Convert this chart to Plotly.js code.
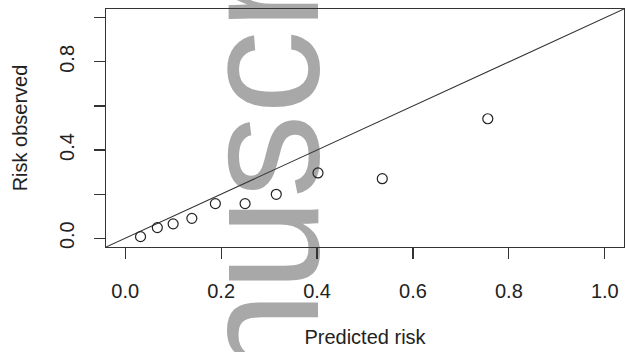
<!DOCTYPE html>
<html>
<head>
<meta charset="utf-8">
<script src="https://cdn.plot.ly/plotly-3.0.1.min.js"></script>
<style>html,body{margin:0;padding:0;background:#fff;}#chart{width:625px;height:352px;}</style>
</head>
<body>
<div id="chart"></div>
<script>
// Calibration data
var predictedRisk = [0.032, 0.067, 0.100, 0.139, 0.188, 0.250, 0.315, 0.402, 0.536, 0.756];
var observedRisk  = [0.007, 0.048, 0.065, 0.090, 0.157, 0.157, 0.199, 0.296, 0.270, 0.542];
// identity (y = x) reference line end points
var identityLine = [-0.04, 1.04];
var xTickVals = [0, 0.2, 0.4, 0.6, 0.8, 1.0];
var xTickText = ['0.0', '0.2', '0.4', '0.6', '0.8', '1.0'];
var yTickVals = [0, 0.2, 0.4, 0.6, 0.8, 1.0];
var yTickText = ['0.0', '', '0.4', '', '0.8', ''];
var watermark = 'Manuscript';

var font = 'Liberation Sans, Arial, Helvetica, sans-serif';

var traces = [
  {
    x: identityLine, y: identityLine, mode: 'lines', type: 'scatter',
    line: {color: '#333333', width: 1.1}, hoverinfo: 'skip', showlegend: false
  },
  {
    x: predictedRisk, y: observedRisk, mode: 'markers', type: 'scatter',
    marker: {symbol: 'circle-open', size: 10, color: '#222222', line: {width: 1.2, color: '#222222'}},
    showlegend: false, cliponaxis: false
  }
];

var axisCommon = {
  showgrid: false, zeroline: false, showline: true, mirror: true,
  linecolor: '#333333', linewidth: 1.2,
  ticks: 'outside', ticklen: 11, tickwidth: 1.2, tickcolor: '#333333',
  tickfont: {family: font, size: 20, color: '#222222'},
  tickmode: 'array'
};

var layout = {
  width: 625, height: 352,
  margin: {l: 106, r: 1, t: 9, b: 105},
  paper_bgcolor: '#ffffff', plot_bgcolor: '#ffffff',
  font: {family: font, color: '#222222'},
  xaxis: Object.assign({}, axisCommon, {
    range: [-0.04, 1.04], tickvals: xTickVals, ticktext: xTickText, ticklabelstandoff: 15,
    title: {text: 'Predicted risk', font: {family: font, size: 20, color: '#222222'}, standoff: 28}
  }),
  yaxis: Object.assign({}, axisCommon, {
    range: [-0.04, 1.04], tickvals: yTickVals, ticktext: yTickText, tickangle: -90, ticklabelstandoff: 12,
    title: {text: 'Risk observed', font: {family: font, size: 20, color: '#222222'}, standoff: 22}
  }),
  annotations: [{
    text: watermark, xref: 'paper', yref: 'paper', x: 0.299, y: 0.166,
    xanchor: 'center', yanchor: 'middle', textangle: -90, showarrow: false,
    font: {family: font, size: 168, color: '#a8a8a8'}
  }]
};

Plotly.newPlot('chart', traces, layout, {displayModeBar: false, staticPlot: true}).then(function (gd) {
  // put the watermark beneath the data, as in the reference
  var ann = gd.querySelector('.infolayer .annotation');
  var cart = gd.querySelector('.main-svg .cartesianlayer');
  if (ann && cart) {
    cart.parentNode.insertBefore(ann, cart);
  }
});
</script>
</body>
</html>
